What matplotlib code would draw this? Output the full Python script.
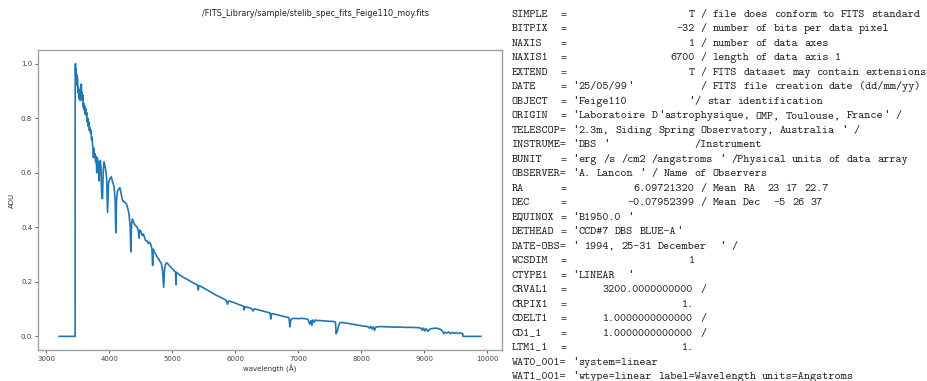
import re
import matplotlib
matplotlib.use("Agg")
import matplotlib.pyplot as plt

# ---- data ----
wavelength = [
    3200, 3455, 3456, 3460, 3465, 3470, 3475, 3480, 3486, 3490, 3495, 3500,
    3506, 3512, 3518, 3524, 3530, 3536, 3542, 3548, 3553, 3558, 3564, 3570,
    3576, 3582, 3590, 3598, 3606, 3614, 3622, 3630, 3640, 3648, 3656, 3664,
    3672, 3680, 3690, 3700, 3708, 3716, 3724, 3732, 3740, 3746, 3750, 3760,
    3770, 3780, 3790, 3798, 3806, 3820, 3835, 3845, 3855, 3865, 3876, 3889,
    3900, 3912, 3925, 3940, 3955, 3970, 3985, 4000, 4015, 4030, 4045, 4060,
    4075, 4090, 4101, 4112, 4130, 4150, 4165, 4180, 4200, 4215, 4230, 4250,
    4270, 4290, 4310, 4330, 4340, 4350, 4365, 4380, 4400, 4420, 4440, 4460,
    4471, 4480, 4500, 4520, 4540, 4560, 4580, 4600, 4620, 4640, 4660, 4675,
    4686, 4695, 4710, 4725, 4740, 4760, 4780, 4800, 4820, 4840, 4861, 4875,
    4890, 4910, 4930, 4950, 4970, 5000, 5030, 5050, 5056, 5062, 5100, 5150,
    5200, 5250, 5300, 5350, 5400, 5411, 5420, 5450, 5500, 5550, 5600, 5650,
    5700, 5750, 5800, 5850, 5876, 5890, 5950, 6000, 6050, 6100, 6130, 6140,
    6150, 6200, 6250, 6280, 6300, 6350, 6400, 6450, 6500, 6550, 6563, 6575,
    6600, 6650, 6700, 6750, 6800, 6850, 6867, 6880, 6900, 6950, 7000, 7050,
    7100, 7150, 7180, 7200, 7215, 7230, 7250, 7270, 7300, 7350, 7400, 7450,
    7500, 7550, 7590, 7600, 7620, 7640, 7660, 7700, 7750, 7800, 7850, 7900,
    7950, 8000, 8050, 8100, 8130, 8150, 8170, 8190, 8210, 8230, 8260, 8300,
    8400, 8500, 8600, 8700, 8800, 8900, 8950, 8970, 8990, 9010, 9030, 9060,
    9090, 9130, 9180, 9220, 9260, 9290, 9310, 9330, 9360, 9390, 9420, 9450,
    9480, 9510, 9540, 9570, 9600, 9613, 9614, 9900,
]
flux = [
    0.0, 0.0, 0.98, 1.0, 0.96, 0.98, 0.94, 0.96, 0.92, 0.95, 0.93, 0.895,
    0.915, 0.875, 0.905, 0.87, 0.9, 0.865, 0.895, 0.87, 0.925, 0.875, 0.895, 0.865,
    0.885, 0.84, 0.855, 0.83, 0.845, 0.815, 0.835, 0.81, 0.82, 0.785, 0.80, 0.77,
    0.785, 0.755, 0.765, 0.745, 0.755, 0.72, 0.73, 0.70, 0.69, 0.655, 0.69, 0.665,
    0.67, 0.64, 0.66, 0.60, 0.655, 0.64, 0.57, 0.63, 0.645, 0.62, 0.52, 0.505,
    0.60, 0.64, 0.63, 0.61, 0.58, 0.455, 0.56, 0.575, 0.58, 0.585, 0.57, 0.56,
    0.545, 0.50, 0.38, 0.50, 0.535, 0.54, 0.545, 0.53, 0.505, 0.495, 0.495, 0.49,
    0.485, 0.47, 0.45, 0.40, 0.31, 0.41, 0.43, 0.42, 0.41, 0.405, 0.40, 0.385,
    0.36, 0.39, 0.385, 0.37, 0.375, 0.36, 0.35, 0.35, 0.34, 0.345, 0.335, 0.32,
    0.26, 0.32, 0.31, 0.305, 0.30, 0.29, 0.285, 0.275, 0.27, 0.25, 0.18, 0.245,
    0.265, 0.27, 0.265, 0.26, 0.255, 0.248, 0.24, 0.235, 0.19, 0.235, 0.228, 0.22,
    0.213, 0.207, 0.20, 0.194, 0.188, 0.17, 0.186, 0.183, 0.177, 0.17, 0.164, 0.157,
    0.15, 0.145, 0.139, 0.133, 0.118, 0.13, 0.126, 0.122, 0.117, 0.113, 0.110, 0.097,
    0.109, 0.106, 0.103, 0.093, 0.101, 0.098, 0.095, 0.092, 0.089, 0.086, 0.064, 0.083,
    0.083, 0.080, 0.077, 0.074, 0.071, 0.069, 0.035, 0.060, 0.065, 0.066, 0.065, 0.066,
    0.065, 0.063, 0.045, 0.058, 0.04, 0.06, 0.052, 0.06, 0.058, 0.058, 0.057, 0.056,
    0.055, 0.055, 0.052, 0.01, 0.02, 0.04, 0.05, 0.051, 0.049, 0.047, 0.045, 0.043,
    0.041, 0.039, 0.037, 0.036, 0.03, 0.037, 0.027, 0.035, 0.022, 0.034, 0.035, 0.036,
    0.035, 0.034, 0.034, 0.033, 0.033, 0.032, 0.03, 0.022, 0.03, 0.02, 0.028, 0.018,
    0.027, 0.029, 0.03, 0.029, 0.025, 0.02, 0.01, 0.015, 0.012, 0.016, 0.01, 0.015,
    0.011, 0.014, 0.01, 0.013, 0.01, 0.01, 0.0, 0.0,
]
x_ticks = [3000, 4000, 5000, 6000, 7000, 8000, 9000, 10000]
y_ticks = [0.0, 0.2, 0.4, 0.6, 0.8, 1.0]
title_text = "/FITS_Library/sample/stelib_spec_fits_Feige110_moy.fits"
x_label = "wavelength (\u00c5)"
y_label = "ADU"

header_lines = [
    "SIMPLE  =                    T / file does conform to FITS standard",
    "BITPIX  =                  -32 / number of bits per data pixel",
    "NAXIS   =                    1 / number of data axes",
    "NAXIS1  =                 6700 / length of data axis 1",
    "EXTEND  =                    T / FITS dataset may contain extensions",
    "DATE    = '25/05/99'           / FITS file creation date (dd/mm/yy)",
    "OBJECT  = 'Feige110          '/ star identification",
    "ORIGIN  = 'Laboratoire D'astrophysique, OMP, Toulouse, France' /",
    "TELESCOP= '2.3m, Siding Spring Observatory, Australia ' /",
    "INSTRUME= 'DBS '              /Instrument",
    "BUNIT   = 'erg /s /cm2 /angstroms ' /Physical units of data array",
    "OBSERVER= 'A. Lancon ' / Name of Observers",
    "RA      =           6.09721320 / Mean RA  23 17 22.7",
    "DEC     =          -0.07952399 / Mean Dec  -5 26 37",
    "EQUINOX = 'B1950.0 '",
    "DETHEAD = 'CCD#7 DBS BLUE-A'",
    "DATE-OBS= ' 1994, 25-31 December  ' /",
    "WCSDIM  =                    1",
    "CTYPE1  = 'LINEAR  '",
    "CRVAL1  =      3200.0000000000 /",
    "CRPIX1  =                   1.",
    "CDELT1  =      1.0000000000000 /",
    "CD1_1   =      1.0000000000000 /",
    "LTM1_1  =                   1.",
    "WAT0_001= 'system=linear",
    "WAT1_001= 'wtype=linear label=Wavelength units=Angstroms",
]

# ---- figure ----
W, H = 928, 381
fig = plt.figure(figsize=(W / 100, H / 100), dpi=100)
ax = fig.add_axes([38 / W, 1 - 350 / H, (502 - 38) / W, 300 / H])
ax.plot(wavelength, flux, color="#1f77b4", lw=1.2)
ax.set_xticks(x_ticks)
ax.set_yticks(y_ticks)
ax.tick_params(labelsize=5.0, length=2.2, width=0.6, colors="#444444", pad=2)
for s in ax.spines.values():
    s.set_color("#a0a0a0")
    s.set_linewidth(1.0)
ax.set_xlabel(x_label, fontsize=5.0, color="#333333", labelpad=2)
ax.set_ylabel(y_label, fontsize=5.0, color="#333333", labelpad=4)

fig.text(315 / W, 1 - 14 / H, title_text, fontsize=5.9, color="#222222",
         ha="center", va="center")

# header block in typewriter font, placed column by column
x0, cw = 511.5, 6.1
y0, lh = 16.8, 14.5
tt = ["cmtt10", "DejaVu Sans Mono"]
for i, line in enumerate(header_lines):
    yb = 1 - (y0 + lh * i) / H
    for m in re.finditer(r"[^\s']+|'", line):
        tok = m.group()
        if tok == "'":
            fig.text((x0 + cw * (m.start() + 0.5)) / W, yb, tok,
                     family="Liberation Mono", fontsize=8.0,
                     color="#222222", ha="center", va="baseline")
        else:
            fig.text((x0 + cw * m.start()) / W, yb, tok,
                     family=tt, fontsize=8.37,
                     color="#222222", ha="left", va="baseline")

fig.savefig("out.png", dpi=100)
